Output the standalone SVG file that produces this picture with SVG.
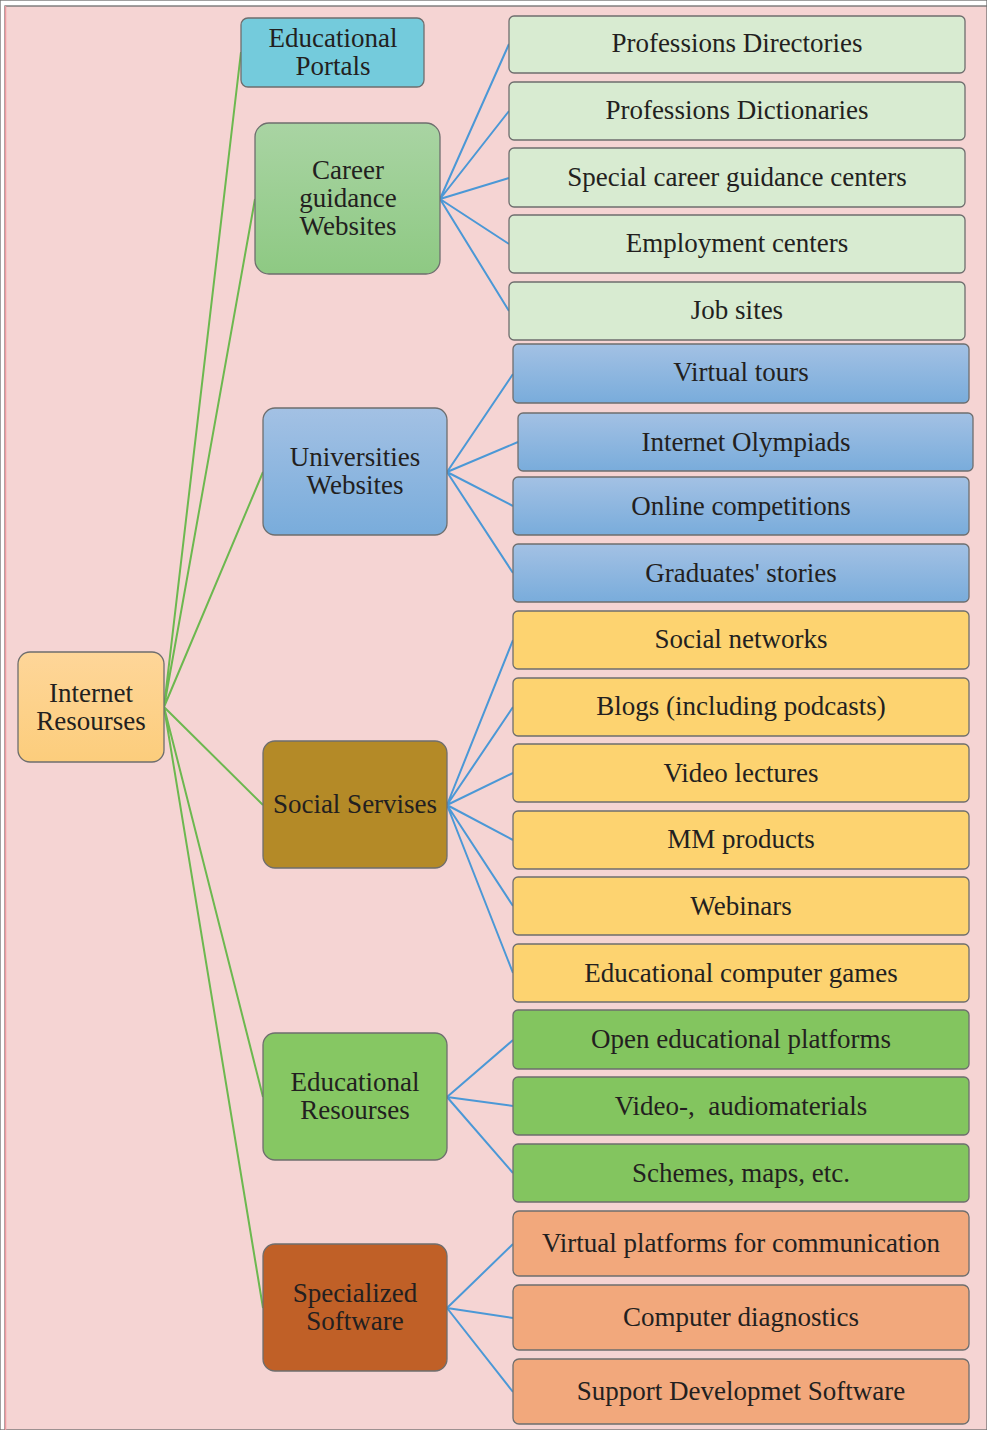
<svg xmlns="http://www.w3.org/2000/svg" width="987" height="1430" viewBox="0 0 987 1430">
<defs>
<linearGradient id="gCareer" x1="0" y1="0" x2="0" y2="1"><stop offset="0" stop-color="#a9d4a3"/><stop offset="1" stop-color="#8ec983"/></linearGradient>
<linearGradient id="gBlue" x1="0" y1="0" x2="0" y2="1"><stop offset="0" stop-color="#a3c1e4"/><stop offset="1" stop-color="#79acdb"/></linearGradient>
<linearGradient id="gInet" x1="0" y1="0" x2="0" y2="1"><stop offset="0" stop-color="#fed699"/><stop offset="1" stop-color="#fccd7c"/></linearGradient>
<style>
text{font-family:"Liberation Serif","Times New Roman",serif;font-size:27px;fill:#231f20;text-anchor:middle}
rect{stroke:#6e6e6e;stroke-width:1.3}
.g{stroke:#6cb84f;stroke-width:2;fill:none}
.b{stroke:#4b98d6;stroke-width:2;fill:none}
.lg{fill:#d8ebd1}.bl{fill:url(#gBlue)}.ye{fill:#fdd370}.gr{fill:#83c55f}.or{fill:#f2a87c}
</style>
</defs>
<rect x="0" y="0" width="987" height="1430" fill="#ffffff" stroke="none"/>
<rect x="5" y="6" width="982" height="1424" fill="#f5d4d3" stroke="none"/>
<line x1="5.5" y1="6" x2="5.5" y2="1430" stroke="#ee9aa0" stroke-width="1.5"/>
<g id="connectors">
<path class="g" d="M164 707L241 52M164 707L255 199M164 707L263 472M164 707L263 805M164 707L263 1097M164 707L263 1308"/>
<path class="b" d="M440 199L509 44M440 199L509 111M440 199L509 178M440 199L509 244M440 199L509 311"/>
<path class="b" d="M447 472L513 374M447 472L518 442M447 472L513 506M447 472L513 573"/>
<path class="b" d="M447 805L513 640M447 805L513 707M447 805L513 773M447 805L513 840M447 805L513 906M447 805L513 973"/>
<path class="b" d="M447 1097L513 1040M447 1097L513 1106M447 1097L513 1173"/>
<path class="b" d="M447 1308L513 1244M447 1308L513 1318M447 1308L513 1392"/>
</g>
<g id="n-internet"><rect x="18" y="652" width="146" height="110" rx="12" fill="url(#gInet)"/><text x="91" y="702">Internet</text><text x="91" y="730">Resourses</text></g>
<g id="n-portals"><rect x="241" y="18" width="183" height="69" rx="7" fill="#74cbdc"/><text x="333" y="47">Educational</text><text x="333" y="75">Portals</text></g>
<g id="n-career"><rect x="255" y="123" width="185" height="151" rx="14" fill="url(#gCareer)"/><text x="348" y="179">Career</text><text x="348" y="207">guidance</text><text x="348" y="235">Websites</text></g>
<g id="n-univ"><rect x="263" y="408" width="184" height="127" rx="12" fill="url(#gBlue)"/><text x="355" y="466">Universities</text><text x="355" y="494">Websites</text></g>
<g id="n-social"><rect x="263" y="741" width="184" height="127" rx="12" fill="#b48a27"/><text x="355" y="813">Social Servises</text></g>
<g id="n-edures"><rect x="263" y="1033" width="184" height="127" rx="12" fill="#86c763"/><text x="355" y="1091">Educational</text><text x="355" y="1119">Resourses</text></g>
<g id="n-soft"><rect x="263" y="1244" width="184" height="127" rx="12" fill="#c06027"/><text x="355" y="1302">Specialized</text><text x="355" y="1330">Software</text></g>

<g id="n-dir"><rect class="lg" x="509" y="16" width="456" height="57" rx="5"/><text x="737" y="52">Professions Directories</text></g>
<g id="n-dict"><rect class="lg" x="509" y="82" width="456" height="58" rx="5"/><text x="737" y="119">Professions Dictionaries</text></g>
<g id="n-centers"><rect class="lg" x="509" y="148" width="456" height="59" rx="5"/><text x="737" y="186">Special career guidance centers</text></g>
<g id="n-employ"><rect class="lg" x="509" y="215" width="456" height="58" rx="5"/><text x="737" y="252">Employment centers</text></g>
<g id="n-jobs"><rect class="lg" x="509" y="282" width="456" height="58" rx="5"/><text x="737" y="319">Job sites</text></g>

<g id="n-tours"><rect class="bl" x="513" y="344" width="456" height="59" rx="5"/><text x="741" y="381">Virtual tours</text></g>
<g id="n-olymp"><rect class="bl" x="518" y="413" width="455" height="58" rx="5"/><text x="746" y="451">Internet Olympiads</text></g>
<g id="n-compet"><rect class="bl" x="513" y="477" width="456" height="58" rx="5"/><text x="741" y="515">Online competitions</text></g>
<g id="n-grad"><rect class="bl" x="513" y="544" width="456" height="58" rx="5"/><text x="741" y="582">Graduates' stories</text></g>

<g id="n-socnet"><rect class="ye" x="513" y="611" width="456" height="58" rx="5"/><text x="741" y="648">Social networks</text></g>
<g id="n-blogs"><rect class="ye" x="513" y="678" width="456" height="58" rx="5"/><text x="741" y="715">Blogs (including podcasts)</text></g>
<g id="n-video"><rect class="ye" x="513" y="744" width="456" height="58" rx="5"/><text x="741" y="782">Video lectures</text></g>
<g id="n-mm"><rect class="ye" x="513" y="811" width="456" height="58" rx="5"/><text x="741" y="848">MM products</text></g>
<g id="n-webinars"><rect class="ye" x="513" y="877" width="456" height="58" rx="5"/><text x="741" y="915">Webinars</text></g>
<g id="n-games"><rect class="ye" x="513" y="944" width="456" height="58" rx="5"/><text x="741" y="982">Educational computer games</text></g>

<g id="n-open"><rect class="gr" x="513" y="1010" width="456" height="59" rx="5"/><text x="741" y="1048">Open educational platforms</text></g>
<g id="n-audio"><rect class="gr" x="513" y="1077" width="456" height="58" rx="5"/><text x="741" y="1115">Video-,&#160; audiomaterials</text></g>
<g id="n-schemes"><rect class="gr" x="513" y="1144" width="456" height="58" rx="5"/><text x="741" y="1182">Schemes, maps, etc.</text></g>

<g id="n-vplat"><rect class="or" x="513" y="1211" width="456" height="65" rx="6"/><text x="741" y="1252">Virtual platforms for communication</text></g>
<g id="n-diag"><rect class="or" x="513" y="1285" width="456" height="65" rx="6"/><text x="741" y="1326">Computer diagnostics</text></g>
<g id="n-support"><rect class="or" x="513" y="1359" width="456" height="65" rx="6"/><text x="741" y="1400">Support Developmet Software</text></g>
</svg>
